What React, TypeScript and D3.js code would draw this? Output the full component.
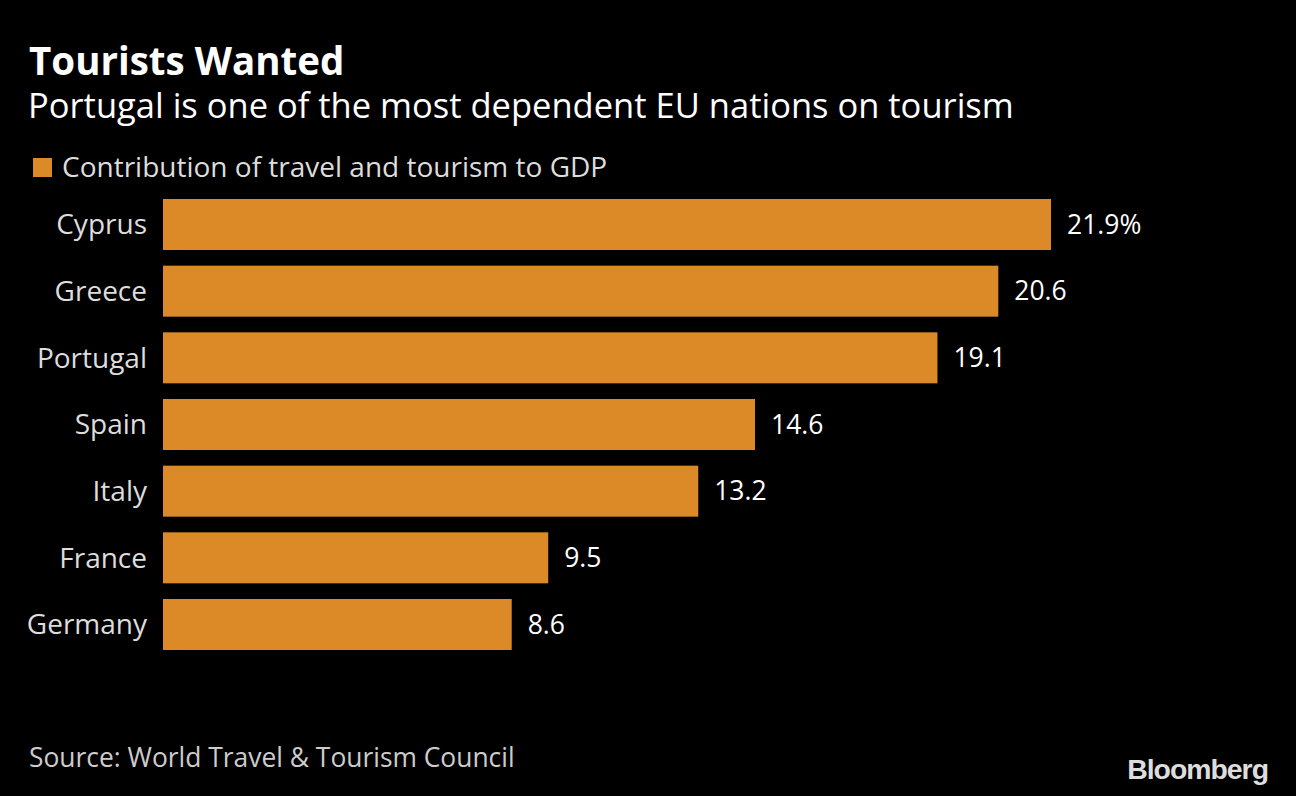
import React from "react";
import * as d3 from "d3";

const countries = ["Cyprus", "Greece", "Portugal", "Spain", "Italy", "France", "Germany"];
const values = [21.9, 20.6, 19.1, 14.6, 13.2, 9.5, 8.6];
const valueLabels = ["21.9%", "20.6", "19.1", "14.6", "13.2", "9.5", "8.6"];
const title = "Tourists Wanted";
const subtitle = "Portugal is one of the most dependent EU nations on tourism";
const legendLabel = "Contribution of travel and tourism to GDP";
const source = "Source: World Travel & Tourism Council";

const W = 1296;
const H = 796;
const BAR = "#DB8A27";
const FONT = "'Open Sans', 'Noto Sans', sans-serif";

export default function App() {
  const x = d3.scaleLinear().domain([0, 21.9]).range([163, 1051]);
  const y = d3.scaleBand<string>().domain(countries).range([199, 650]).paddingInner(0.235).paddingOuter(0);
  return (
    <svg width={W} height={H} style={{ display: "block", position: "absolute", left: 0, top: 0 }}>
      <rect x={0} y={0} width={W} height={H} fill="#000" />
      <text x={29} y={75} fill="#fff" fontFamily={FONT} fontWeight={700} fontSize={38.5}>{title}</text>
      <text x={28} y={118} fill="#fff" fontFamily={FONT} fontSize={34.5}>{subtitle}</text>
      <rect x={33} y={158} width={19} height={19} fill={BAR} />
      <text x={62} y={177} fill="#ddd" fontFamily={FONT} fontSize={28}>{legendLabel}</text>
      {countries.map((c, i) => {
        const yy = y(c)!;
        const bw = y.bandwidth();
        return (
          <g key={c}>
            <rect x={x(0)} y={yy} width={x(values[i]) - x(0)} height={bw} fill={BAR} />
            <text x={147} y={yy + bw / 2} dy="0.35em" textAnchor="end" fill="#ddd" fontFamily={FONT} fontSize={28}>{c}</text>
            <text x={x(values[i]) + 16} y={yy + bw / 2} dy="0.35em" fill="#fff" fontFamily={FONT} fontSize={26.5}>{valueLabels[i]}</text>
          </g>
        );
      })}
      <text x={29} y={767} fill="#ccc" fontFamily={FONT} fontSize={26.4}>{source}</text>
      <text x={1268} y={779} textAnchor="end" fill="#ddd" fontFamily="'Liberation Sans', Arial, sans-serif" fontWeight={700} fontSize={28.4} letterSpacing={-1}>Bloomberg</text>
    </svg>
  );
}
